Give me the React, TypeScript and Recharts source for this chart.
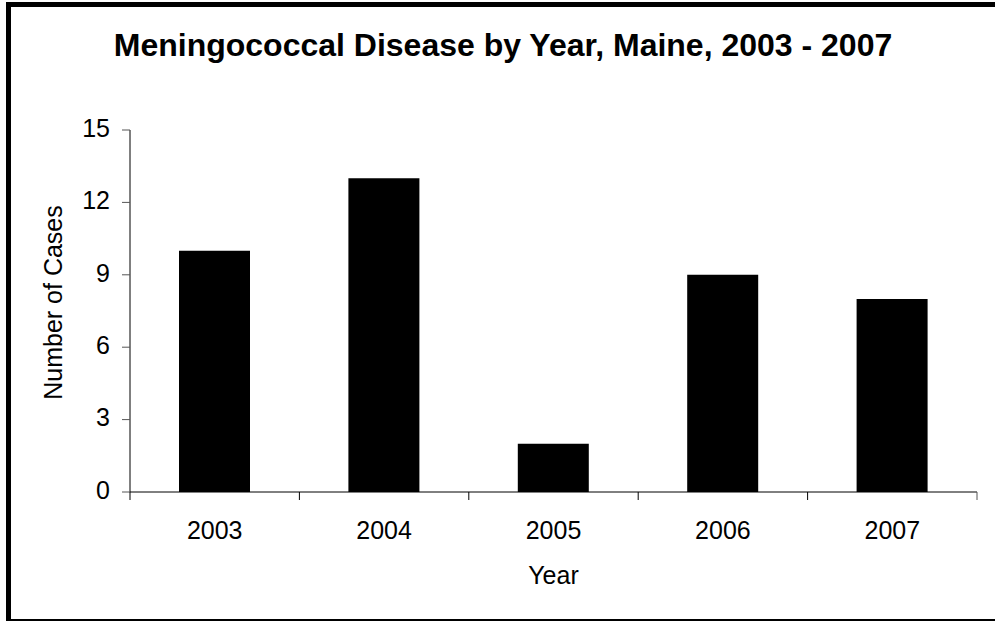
import React from 'react';
import { BarChart, Bar, XAxis, YAxis } from 'recharts';

const years = ['2003', '2004', '2005', '2006', '2007'];
const cases = [10, 13, 2, 9, 8];
const yTicks = [0, 3, 6, 9, 12, 15];
const title = 'Meningococcal Disease by Year, Maine, 2003 - 2007';
const xLabel = 'Year';
const yLabel = 'Number of Cases';

const data = years.map((y, i) => ({ year: y, cases: cases[i] }));

const FONT = '"Liberation Sans", Arial, sans-serif';
const TICK_SIZE = 8;
const TICK_MARGIN = 21;

const XTick = (props: any) => {
  const { x, y, payload, index } = props;
  const off = payload && payload.offset ? payload.offset : 0;
  const top = y - TICK_SIZE - TICK_MARGIN;
  const last = index === years.length - 1;
  return (
    <g>
      <line x1={x - off} x2={x - off} y1={top} y2={top + TICK_SIZE} stroke="#000" />
      {last && <line x1={x + off} x2={x + off} y1={top} y2={top + TICK_SIZE} stroke="#555" />}
      <text x={x} y={y} dy="0.71em" textAnchor="middle" fontFamily={FONT} fontSize={25} fill="#000">{payload.value}</text>
    </g>
  );
};

export default function App() {
  return (
    <div style={{ position: 'absolute', left: 0, top: 0, width: 995, height: 621, overflow: 'hidden', background: '#fff', fontFamily: FONT }}>
      <div style={{ position: 'absolute', left: 6, top: 2, width: 1000, height: 611.5, borderLeft: '5px solid #000', borderTop: '5px solid #000', borderBottom: '5px solid #000' }} />
      <div style={{ position: 'absolute', left: 0, top: 0 }}>
        <BarChart width={995} height={621} data={data} margin={{ top: 130, right: 18, bottom: 69, left: 70 }}>
          <XAxis dataKey="year" height={60} tickSize={TICK_SIZE} tickMargin={TICK_MARGIN} tickLine={false} axisLine={{ stroke: '#000' }} tick={<XTick />} interval={0} />
          <YAxis domain={[0, 15]} ticks={yTicks} width={60} tickSize={8} tickMargin={12} axisLine={{ stroke: '#000' }} tickLine={{ stroke: '#555' }} tick={{ fill: '#000', fontSize: 25, fontFamily: FONT, dy: -2 }} />
          <Bar dataKey="cases" fill="#000" barSize={71} isAnimationActive={false} />
        </BarChart>
      </div>
      <svg width={995} height={621} style={{ position: 'absolute', left: 0, top: 0, pointerEvents: 'none' }}>
        <text x={503} y={56} textAnchor="middle" fontFamily={FONT} fontWeight="bold" fontSize={32} fill="#000">{title}</text>
        <text x={553.5} y={584} textAnchor="middle" fontFamily={FONT} fontSize={25} fill="#000">{xLabel}</text>
        <text transform="translate(61.5,302.5) rotate(-90)" textAnchor="middle" fontFamily={FONT} fontSize={25} fill="#000">{yLabel}</text>
      </svg>
    </div>
  );
}
